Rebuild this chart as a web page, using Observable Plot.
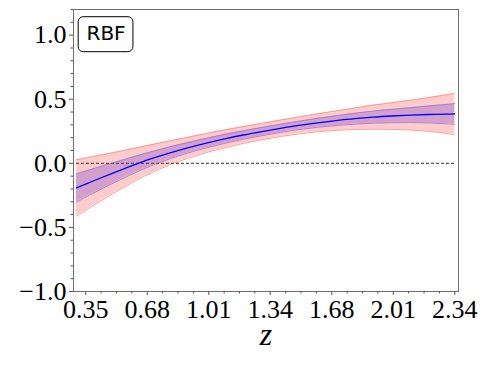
<!DOCTYPE html>
<html>
<head>
<meta charset="utf-8">
<script src="https://cdn.jsdelivr.net/npm/d3@7"></script>
<script src="https://cdn.jsdelivr.net/npm/@observablehq/plot@0.6"></script>
<style>
  html, body { margin: 0; padding: 0; background: #fff; }
</style>
</head>
<body>
<div id="chart"></div>
<script>
// redshift grid
const z = [0.30, 0.40, 0.50, 0.60, 0.70, 0.80, 0.90, 1.00, 1.10, 1.20, 1.30, 1.40, 1.50, 1.60, 1.70, 1.80, 1.90, 2.00, 2.10, 2.20, 2.30, 2.34];
// reconstructed mean
const mean = [-0.192, -0.132, -0.074, -0.018, 0.034, 0.080, 0.121, 0.158, 0.191, 0.221, 0.248, 0.273, 0.296, 0.316, 0.333, 0.348, 0.360, 0.369, 0.376, 0.381, 0.384, 0.385];
// 1-sigma band
const innerLo = [-0.302, -0.226, -0.153, -0.084, -0.021, 0.033, 0.080, 0.121, 0.156, 0.188, 0.216, 0.241, 0.263, 0.281, 0.295, 0.306, 0.313, 0.317, 0.318, 0.315, 0.308, 0.304];
const innerHi = [-0.082, -0.038, 0.005, 0.048, 0.089, 0.127, 0.162, 0.195, 0.226, 0.254, 0.280, 0.305, 0.329, 0.351, 0.371, 0.390, 0.407, 0.421, 0.434, 0.447, 0.460, 0.466];
// 2-sigma band
const outerLo = [-0.412, -0.320, -0.232, -0.150, -0.076, -0.014, 0.039, 0.084, 0.121, 0.155, 0.184, 0.209, 0.230, 0.246, 0.257, 0.264, 0.266, 0.265, 0.260, 0.249, 0.232, 0.223];
const outerHi = [0.028, 0.056, 0.084, 0.114, 0.144, 0.174, 0.203, 0.232, 0.261, 0.287, 0.312, 0.337, 0.362, 0.386, 0.409, 0.432, 0.454, 0.473, 0.492, 0.513, 0.536, 0.547];

// axis ticks
const xTicks = [0.35, 0.6817, 1.0133, 1.345, 1.6767, 2.0083, 2.34];
const xTickLabels = ["0.35", "0.68", "1.01", "1.34", "1.68", "2.01", "2.34"];
const yTicks = [-1.0, -0.5, 0.0, 0.5, 1.0];
const yTickLabels = ["\u22121.0", "\u22120.5", "0.0", "0.5", "1.0"];
const yMinor = d3.range(-10, 13).map(k => k / 10).filter(v => !yTicks.some(t => Math.abs(t - v) < 1e-9));
const xMinor = [];
for (let i = 0; i < xTicks.length - 1; i++) {
  const step = (xTicks[i + 1] - xTicks[i]) / 4;
  for (let k = 1; k < 4; k++) xMinor.push(xTicks[i] + k * step);
}
const panelLabel = ["RBF"];
const axisName = ["z"];

const data = z.map((v, i) => ({
  z: v, mean: mean[i],
  ilo: innerLo[i], ihi: innerHi[i],
  olo: outerLo[i], ohi: outerHi[i]
}));
const zeroLine = [{x1: z[0], x2: z[z.length - 1], y: 0}];

const serif = "'Liberation Serif', 'DejaVu Serif', serif";
const curve = "catmull-rom";

const plot = Plot.plot({
  width: 488,
  height: 366,
  marginLeft: 73,
  marginRight: 30,
  marginTop: 9,
  marginBottom: 75,
  style: {fontFamily: serif, fontSize: "26px", background: "#fff", color: "#000"},
  x: {domain: [0.284, 2.36], label: null},
  y: {domain: [-1.0, 1.2], label: null},
  marks: [
    Plot.areaY(data, {x: "z", y1: "olo", y2: "ohi", fill: "#ffcccc", curve}),
    Plot.lineY(data, {x: "z", y: "olo", stroke: "#ff9090", strokeWidth: 0.9, curve}),
    Plot.lineY(data, {x: "z", y: "ohi", stroke: "#ff9090", strokeWidth: 0.9, curve}),
    Plot.areaY(data, {x: "z", y1: "ilo", y2: "ihi", fill: "#d3a0cd", curve}),
    Plot.lineY(data, {x: "z", y: "ilo", stroke: "#a47ad0", strokeWidth: 0.9, curve}),
    Plot.lineY(data, {x: "z", y: "ihi", stroke: "#a47ad0", strokeWidth: 0.9, curve}),
    Plot.ruleY(zeroLine, {x1: "x1", x2: "x2", y: "y", stroke: "#555", strokeWidth: 1.2, strokeDasharray: "3,2"}),
    Plot.lineY(data, {x: "z", y: "mean", stroke: "#0000ff", strokeWidth: 1.3, curve}),
    Plot.frame({stroke: "#6e6e6e", strokeWidth: 1}),
    Plot.axisY(yTicks, {tickSize: 4, tickPadding: 3, tickFormat: (d, i) => yTickLabels[i], stroke: "#555", fontFamily: serif, fontSize: 26, fill: "#000"}),
    Plot.axisY(yMinor, {tickSize: 2.5, stroke: "#555", text: null}),
    Plot.axisX(xTicks, {tickSize: 4, tickPadding: 4, tickFormat: (d, i) => xTickLabels[i], stroke: "#555", fontFamily: serif, fontSize: 26, fill: "#000"}),
    Plot.axisX(xMinor, {tickSize: 2.5, stroke: "#555", text: null}),
    Plot.text(axisName, {frameAnchor: "bottom", dy: 53, lineAnchor: "bottom", fontSize: 32, fontStyle: "italic", fontFamily: serif}),
    Plot.text(panelLabel, {frameAnchor: "top-left", dx: 13, dy: 16.5, lineAnchor: "top", textAnchor: "start", fontFamily: "'DejaVu Sans', sans-serif", fontSize: 20, className: "rbf-label"})
  ]
});

document.getElementById("chart").appendChild(plot);

// rounded box around the panel label, sized from the rendered text
const g = plot.querySelector("g.rbf-label") || plot.querySelector(".rbf-label");
if (g) {
  const t = g.querySelector("text");
  const bb = t.getBBox();
  const ns = "http://www.w3.org/2000/svg";
  const r = document.createElementNS(ns, "rect");
  r.setAttribute("x", bb.x - 8.3);
  r.setAttribute("y", bb.y - 4.5);
  r.setAttribute("width", bb.width + 15.6);
  r.setAttribute("height", bb.height + 11);
  r.setAttribute("rx", 5);
  r.setAttribute("fill", "#fff");
  r.setAttribute("stroke", "#000");
  r.setAttribute("stroke-width", 1);
  const tr = t.getAttribute("transform");
  if (tr) r.setAttribute("transform", tr);
  g.insertBefore(r, t);
}
</script>
</body>
</html>
